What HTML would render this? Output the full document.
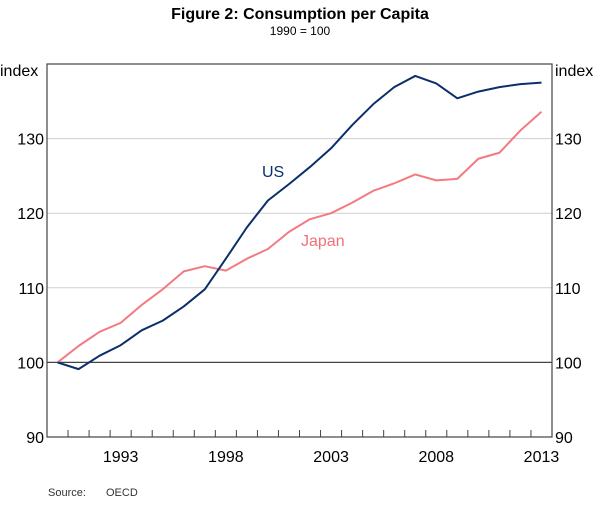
<!DOCTYPE html>
<html><head><meta charset="utf-8"><style>
body{margin:0;background:#fff;font-family:"Liberation Sans",Arial,sans-serif}
svg text{font-family:"Liberation Sans",Arial,sans-serif}
</style></head><body>
<svg id="chart" width="600" height="500" xmlns="http://www.w3.org/2000/svg">
<text x="300" y="19" text-anchor="middle" font-size="16" font-weight="bold">Figure 2: Consumption per Capita</text>
<text x="300" y="35" text-anchor="middle" font-size="12">1990 = 100</text>
<g id="grid"></g>
<g id="axes"></g>
<g id="series"></g>
<text x="262" y="177" font-size="16" fill="#0b2f6b">US</text>
<text x="301" y="246" font-size="16" fill="#f0707a">Japan</text>
<text x="48" y="496" font-size="11" fill="#333">Source:</text>
<text x="106" y="496" font-size="11" fill="#333">OECD</text>
</svg>
<script>
const years = [1990,1991,1992,1993,1994,1995,1996,1997,1998,1999,2000,2001,2002,2003,2004,2005,2006,2007,2008,2009,2010,2011,2012,2013];
const usValues = [100,99.1,100.9,102.3,104.3,105.6,107.5,109.8,113.9,118.1,121.7,123.9,126.2,128.7,131.8,134.6,136.9,138.4,137.4,135.4,136.3,136.9,137.3,137.5];
const japanValues = [100,102.2,104.1,105.3,107.7,109.8,112.2,112.9,112.3,113.9,115.2,117.5,119.2,120.0,121.4,123.0,124.0,125.2,124.4,124.6,127.3,128.1,131.1,133.6];
const yTicks = [90,100,110,120,130];
const xLabels = [1993,1998,2003,2008,2013];

const L=47,R=552,T=64,B=437,yMin=90,yMax=140;
const bw=(R-L)/years.length;
const x=i=>L+bw*(i+0.5);
const y=v=>B-(v-yMin)/(yMax-yMin)*(B-T);
const NS="http://www.w3.org/2000/svg";
function mk(tag,attrs,parent,text){const e=document.createElementNS(NS,tag);for(const k in attrs)e.setAttribute(k,attrs[k]);if(text!==undefined)e.textContent=text;document.getElementById(parent).appendChild(e);return e;}

yTicks.forEach(v=>{
  if(v>yMin&&v!==100){const g=mk('line',{x1:L,x2:R,y1:y(v),y2:y(v),stroke:'#cfcfcf','stroke-width':1},'grid');
  
  }
  const t1=mk('text',{x:L-3,y:y(v)+6,'text-anchor':'end','font-size':16},'axes',String(v));
  
  
  const t2=mk('text',{x:R+3,y:y(v)+6,'text-anchor':'start','font-size':16},'axes',String(v));
  
  
});
const il=mk('text',{x:0,y:T+12,'font-size':16},'axes','index');


const ir=mk('text',{x:R+3,y:T+12,'font-size':16},'axes','index');


const base=mk('line',{x1:L,x2:R,y1:y(100),y2:y(100),stroke:'#444','stroke-width':1.2},'axes');


const frame=mk('rect',{x:L,y:T,width:R-L,height:B-T,fill:'none',stroke:'#444','stroke-width':1.2},'axes');


for(let i=1;i<years.length;i++){
  const tk=mk('line',{x1:L+bw*i,x2:L+bw*i,y1:B,y2:B-7,stroke:'#444','stroke-width':1},'axes');
  
  
}
xLabels.forEach(yr=>{
  const i=years.indexOf(yr);
  const t=mk('text',{x:x(i),y:B+25,'text-anchor':'middle','font-size':16},'axes',String(yr));
  
  
});
function line(vals,color,name){
  const p=mk('polyline',{points:vals.map((v,i)=>x(i)+','+y(v)).join(' '),fill:'none',stroke:color,'stroke-width':2,'stroke-linejoin':'round'},'series');
  
  
}
line(japanValues,'#f47a82','japan-line');
line(usValues,'#0b2f6b','us-line');
</script>
</body></html>
